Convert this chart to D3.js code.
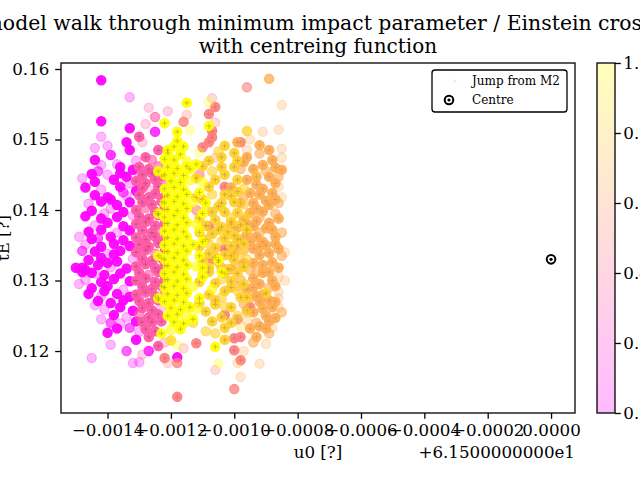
<!DOCTYPE html>
<html>
<head>
<meta charset="utf-8">
<script src="https://cdn.jsdelivr.net/npm/d3@7"></script>
<style>
body { margin: 0; background: #fff; }
text { font-family: "DejaVu Serif", serif; fill: #000; }
</style>
</head>
<body>
<script>
// u0 is stored as offset from 61.5 (the axis offset text), uE as is
// each point: [u0 - 61.5, uE, alpha]
const magentaPts = [
  [-0.00142,0.1584,.85],[-0.00133,0.1560,.25],[-0.00142,0.1526,.85],[-0.00133,0.1516,.85],
  [-0.00142,0.1504,.25],[-0.00144,0.1488,.25],[-0.00140,0.1491,.25],[-0.00134,0.1496,.85],
  [-0.00133,0.1485,.85],[-0.00139,0.1478,.7],[-0.00144,0.1471,.85],[-0.00142,0.1464,.25],
  [-0.00137,0.1465,.25],[-0.00125,0.1511,.7],[-0.00145,0.1451,.85],[-0.00132,0.1457,.85],
  [-0.00130,0.1452,.25],[-0.00136,0.1461,.85],[-0.00140,0.1450,.25],[-0.00134,0.1447,.85],
  [-0.00144,0.1440,.85],[-0.00138,0.1443,.85],[-0.00133,0.1438,.25],[-0.00147,0.1432,.85],
  [-0.00142,0.1429,.25],[-0.00136,0.1433,.85],[-0.00131,0.1427,.85],[-0.00144,0.1421,.85],
  [-0.00140,0.1418,.85],[-0.00134,0.1420,.25],[-0.00146,0.1409,.25],[-0.00142,0.1412,.85],
  [-0.00137,0.1407,.85],[-0.00133,0.1411,.85],[-0.00145,0.1399,.85],[-0.00139,0.1402,.25],
  [-0.00135,0.1397,.85],[-0.00147,0.1391,.85],[-0.00142,0.1388,.85],[-0.00137,0.1390,.85],
  [-0.00132,0.1392,.25],[-0.00144,0.1378,.25],[-0.00140,0.1382,.85],[-0.00135,0.1377,.85],
  [-0.00146,0.1369,.85],[-0.00142,0.1372,.85],[-0.00137,0.1368,.25],[-0.00133,0.1371,.85],
  [-0.00145,0.1359,.85],[-0.00139,0.1362,.85],[-0.00135,0.1357,.85],[-0.00147,0.1351,.25],
  [-0.00142,0.1348,.85],[-0.00138,0.1352,.85],[-0.00133,0.1349,.85],[-0.00144,0.1341,.85],
  [-0.00140,0.1338,.25],[-0.00136,0.1342,.85],[-0.00146,0.1329,.85],[-0.00142,0.1332,.85],
  [-0.00137,0.1327,.85],[-0.00132,0.1331,.25],[-0.00148,0.1318,.85],[-0.00143,0.1322,.85],
  [-0.00139,0.1319,.25],[-0.00134,0.1317,.85],[-0.00145,0.1311,.85],[-0.00141,0.1308,.85],
  [-0.00136,0.1310,.85],[-0.00147,0.1301,.25],[-0.00142,0.1298,.85],[-0.00138,0.1302,.85],
  [-0.00133,0.1299,.85],[-0.00145,0.1289,.85],[-0.00140,0.1292,.85],[-0.00135,0.1287,.25],
  [-0.00146,0.1281,.85],[-0.00142,0.1278,.25],[-0.00137,0.1281,.85],[-0.00133,0.1277,.85],
  [-0.00143,0.1271,.85],[-0.00139,0.1268,.85],[-0.00135,0.1272,.85],[-0.00141,0.1259,.25],
  [-0.00136,0.1262,.85],[-0.00132,0.1257,.85],[-0.00138,0.1251,.85],[-0.00134,0.1248,.25],
  [-0.00136,0.1239,.25],[-0.00131,0.1242,.85],[-0.00140,0.1226,.85],[-0.00145,0.1190,.25],
  [-0.00132,0.1183,.25],[-0.00130,0.1184,.25],[-0.00131,0.1216,.85],[-0.00127,0.1200,.7],
  [-0.00118,0.1191,.85],[-0.00147,0.1315,.85],[-0.00130,0.1227,.25],
  [-0.00149,0.1362,.25],[-0.00148,0.1342,.55],[-0.00149,0.1295,.25],[-0.00148,0.1445,.25],
  [-0.00143,0.1360,.55],[-0.00140,0.1325,.85],[-0.00138,0.1337,.85],[-0.00144,0.1310,.25],
  [-0.00139,0.1415,.85],[-0.00135,0.1425,.55],[-0.00141,0.1395,.25],[-0.00143,0.1455,.55],
  [-0.00136,0.1452,.85],[-0.00131,0.1470,.25],[-0.00141,0.1285,.85],[-0.00144,0.1265,.25],
  [-0.00139,0.1240,.55],[-0.00137,0.1232,.85],[-0.00142,0.1245,.25],[-0.00133,0.1233,.55],
  [-0.00150,0.1318,.85],[-0.00148,0.1312,.85],[-0.00139,0.1209,.25],[-0.00134,0.1200,.55]
];
const pinkPts = [
  [-0.00130,0.1504,.85],[-0.00129,0.1496,.25],[-0.00128,0.1522,.25],[-0.00125,0.1532,.55],
  [-0.00124,0.1485,.85],[-0.00128,0.1475,.85],[-0.00126,0.1471,.55],
  [-0.00130,0.1461,.85],[-0.00127,0.1458,.85],[-0.00124,0.1462,.55],
  [-0.00129,0.1450,.85],[-0.00126,0.1452,.85],[-0.00123,0.1448,.85],
  [-0.00131,0.1441,.85],[-0.00128,0.1438,.85],[-0.00125,0.1443,.85],[-0.00122,0.1440,.55],
  [-0.00129,0.1431,.85],[-0.00126,0.1428,.25],[-0.00124,0.1433,.85],
  [-0.00130,0.1421,.85],[-0.00127,0.1418,.85],[-0.00125,0.1423,.85],[-0.00122,0.1419,.85],
  [-0.00129,0.1411,.85],[-0.00126,0.1408,.85],[-0.00123,0.1412,.85],
  [-0.00131,0.1400,.85],[-0.00128,0.1403,.55],[-0.00125,0.1398,.85],[-0.00122,0.1401,.85],
  [-0.00130,0.1391,.85],[-0.00127,0.1388,.85],[-0.00124,0.1393,.85],
  [-0.00131,0.1380,.85],[-0.00128,0.1383,.85],[-0.00125,0.1378,.85],[-0.00122,0.1381,.85],
  [-0.00129,0.1371,.85],[-0.00126,0.1368,.85],[-0.00123,0.1372,.55],
  [-0.00131,0.1361,.85],[-0.00128,0.1358,.85],[-0.00125,0.1362,.85],[-0.00122,0.1359,.85],
  [-0.00130,0.1351,.85],[-0.00127,0.1348,.85],[-0.00124,0.1353,.85],
  [-0.00131,0.1340,.85],[-0.00128,0.1343,.85],[-0.00125,0.1338,.55],[-0.00122,0.1341,.85],
  [-0.00129,0.1331,.85],[-0.00126,0.1328,.85],[-0.00123,0.1332,.85],
  [-0.00131,0.1320,.85],[-0.00128,0.1323,.85],[-0.00125,0.1318,.85],[-0.00122,0.1321,.85],
  [-0.00130,0.1311,.85],[-0.00127,0.1308,.55],[-0.00124,0.1312,.85],
  [-0.00131,0.1300,.85],[-0.00128,0.1303,.85],[-0.00125,0.1298,.85],[-0.00122,0.1301,.85],
  [-0.00129,0.1291,.85],[-0.00126,0.1288,.85],[-0.00123,0.1292,.85],
  [-0.00131,0.1280,.85],[-0.00128,0.1283,.85],[-0.00125,0.1278,.85],[-0.00122,0.1281,.55],
  [-0.00130,0.1271,.85],[-0.00127,0.1268,.85],[-0.00124,0.1272,.85],
  [-0.00129,0.1261,.85],[-0.00126,0.1258,.85],[-0.00123,0.1262,.25],
  [-0.00130,0.1251,.55],[-0.00127,0.1248,.85],[-0.00124,0.1252,.85],
  [-0.00129,0.1241,.85],[-0.00126,0.1238,.25],[-0.00123,0.1242,.85],
  [-0.00128,0.1231,.85],[-0.00125,0.1228,.85],
  [-0.00127,0.1220,.85],[-0.00124,0.1207,.85],[-0.00126,0.1241,.85],
  [-0.00127,0.1545,.25],[-0.00121,0.1540,.25],[-0.00129,0.1195,.25],[-0.00122,0.1212,.25]
];
const salmonPts = [
  [-0.00096,0.1574,.55],[-0.00107,0.1559,.25],[-0.00106,0.1546,.85],[-0.00108,0.1536,.85],
  [-0.00106,0.1524,.25],[-0.00107,0.1512,.85],[-0.00107,0.1503,.85],[-0.00108,0.1496,.85],
  [-0.00110,0.1489,.85],[-0.00106,0.1474,.25],[-0.00115,0.1535,.25],[-0.00116,0.1525,.7],
  [-0.00098,0.1496,.85],[-0.00103,0.1433,.85],[-0.00108,0.1377,.85],[-0.00103,0.1345,.85],
  [-0.00107,0.1330,.85],[-0.00104,0.1318,.55],[-0.00122,0.1190,.85],[-0.00121,0.1183,.25],
  [-0.00118,0.1183,.7],[-0.00118,0.1135,.85],[-0.00112,0.1211,.85],[-0.00116,0.1204,.25],
  [-0.00106,0.1173,.25],[-0.00098,0.1187,.85],[-0.00100,0.1201,.85],[-0.00098,0.1220,.85],
  [-0.00100,0.1218,.85],[-0.00099,0.1245,.85],[-0.00095,0.1262,.85],[-0.00103,0.1251,.85],
  [-0.00100,0.1146,.7],[-0.00111,0.1450,.55],[-0.00112,0.1400,.55],[-0.00120,0.1215,.55]
];
const orangePts = [
  [-0.00089,0.1586,.7],[-0.00085,0.1549,.25],[-0.00091,0.1511,.25],[-0.00086,0.1514,.25],
  [-0.00099,0.1496,.85],[-0.00092,0.1492,.85],[-0.00089,0.1485,.85],[-0.00085,0.1487,.25],
  [-0.00096,0.1485,.25],[-0.00097,0.1468,.85],[-0.00091,0.1464,.85],[-0.00088,0.1471,.85],
  [-0.00087,0.1460,.85],[-0.00085,0.1474,.25],[-0.00096,0.1475,.85],[-0.00093,0.1447,.85],
  [-0.00089,0.1447,.85],[-0.00086,0.1447,.55],[-0.00096,0.1443,.85],[-0.00086,0.1433,.25],
  [-0.00085,0.1418,.25],[-0.00092,0.1422,.85],[-0.00095,0.1424,.85],[-0.00094,0.1410,.85],
  [-0.00089,0.1407,.85],[-0.00086,0.1410,.55],[-0.00088,0.1424,.85],[-0.00085,0.1457,.85],
  [-0.00095,0.1396,.85],[-0.00091,0.1398,.85],[-0.00087,0.1395,.55],
  [-0.00097,0.1386,.85],[-0.00093,0.1384,.85],[-0.00086,0.1388,.85],
  [-0.00099,0.1375,.85],[-0.00094,0.1377,.85],[-0.00090,0.1374,.85],
  [-0.00088,0.1372,.85],[-0.00085,0.1368,.55],
  [-0.00098,0.1358,.85],[-0.00095,0.1355,.85],[-0.00091,0.1355,.85],
  [-0.00089,0.1339,.85],[-0.00086,0.1345,.85],[-0.00100,0.1339,.85],[-0.00092,0.1336,.85],
  [-0.00094,0.1325,.85],[-0.00088,0.1326,.85],[-0.00097,0.1325,.85],
  [-0.00095,0.1315,.55],[-0.00086,0.1318,.85],[-0.00086,0.1305,.25],
  [-0.00092,0.1295,.85],[-0.00089,0.1290,.55],[-0.00092,0.1270,.85],
  [-0.00088,0.1262,.85],[-0.00086,0.1262,.25],[-0.00087,0.1247,.85],
  [-0.00088,0.1233,.25],[-0.00092,0.1235,.85],[-0.00090,0.1232,.85],[-0.00093,0.1220,.85],
  [-0.00092,0.1182,.25],[-0.00098,0.1163,.25],[-0.00099,0.1183,.25],
  [-0.00086,0.1275,.25],[-0.00086,0.1284,.25],
  [-0.00101,0.1432,.85],[-0.00093,0.1436,.85],[-0.00090,0.1413,.85],[-0.00097,0.1419,.55],
  [-0.00101,0.1380,.85],[-0.00096,0.1366,.85],[-0.00092,0.1368,.55],[-0.00099,0.1349,.85],
  [-0.00094,0.1345,.85],[-0.00090,0.1350,.85],[-0.00101,0.1316,.85],[-0.00091,0.1311,.85],
  [-0.00094,0.1303,.85],[-0.00098,0.1301,.55],[-0.00088,0.1300,.85],[-0.00096,0.1288,.85],
  [-0.00093,0.1278,.85],[-0.00089,0.1272,.85],[-0.00097,0.1267,.55],[-0.00094,0.1255,.85],
  [-0.00090,0.1250,.85],[-0.00096,0.1243,.25],[-0.00093,0.1240,.55],
  [-0.00098,0.1410,.85],[-0.00093,0.1402,.85],[-0.00087,0.1415,.85],[-0.00091,0.1430,.85],
  [-0.00087,0.1438,.85],[-0.00094,0.1458,.85],[-0.00090,0.1455,.55],[-0.00098,0.1458,.55],
  [-0.00089,0.1382,.85],[-0.00092,0.1390,.55],[-0.00096,0.1380,.85],[-0.00087,0.1362,.85],
  [-0.00093,0.1362,.85],[-0.00097,0.1343,.55],[-0.00092,0.1348,.85],[-0.00087,0.1352,.85],
  [-0.00085,0.1335,.55],[-0.00091,0.1322,.85],[-0.00089,0.1312,.85],[-0.00099,0.1318,.55],
  [-0.00093,0.1312,.55],[-0.00087,0.1292,.85],[-0.00094,0.1290,.85],[-0.00099,0.1292,.55],
  [-0.00091,0.1280,.85],[-0.00095,0.1275,.55],[-0.00087,0.1270,.85],[-0.00091,0.1260,.85],
  [-0.00096,0.1258,.85],[-0.00089,0.1242,.85],[-0.00085,0.1255,.55],[-0.00095,0.1232,.85],
  [-0.00089,0.1225,.55],[-0.00094,0.1212,.55],[-0.00092,0.1480,.55],[-0.00095,0.1500,.25],
  [-0.00084,0.1340,.25],[-0.00084,0.1300,.25],[-0.00090,0.1210,.25],[-0.00097,0.1200,.25]
];
const goldPts = [
  [-0.00096,0.1512,.7],[-0.00103,0.1491,.85],[-0.00100,0.1481,.85],[-0.00104,0.1475,.85],
  [-0.00104,0.1461,.85],[-0.00100,0.1461,.85],[-0.00099,0.1443,.85],[-0.00106,0.1443,.85],
  [-0.00108,0.1433,.85],[-0.00099,0.1426,.85],[-0.00103,0.1422,.85],[-0.00107,0.1422,.55],
  [-0.00104,0.1410,.85],[-0.00100,0.1411,.85],[-0.00097,0.1408,.55],[-0.00107,0.1397,.85],
  [-0.00103,0.1397,.85],[-0.00099,0.1396,.85],
  [-0.00111,0.1388,.85],[-0.00106,0.1386,.85],[-0.00101,0.1389,.55],
  [-0.00109,0.1378,.85],[-0.00104,0.1376,.85],[-0.00098,0.1379,.85],
  [-0.00111,0.1368,.85],[-0.00107,0.1366,.85],[-0.00102,0.1369,.85],
  [-0.00109,0.1358,.85],[-0.00104,0.1356,.55],[-0.00099,0.1359,.85],
  [-0.00111,0.1348,.85],[-0.00106,0.1346,.85],[-0.00101,0.1349,.85],
  [-0.00108,0.1338,.85],[-0.00103,0.1336,.85],[-0.00098,0.1339,.55],
  [-0.00110,0.1328,.85],[-0.00105,0.1326,.85],[-0.00100,0.1329,.85],
  [-0.00108,0.1318,.85],[-0.00102,0.1316,.85],[-0.00097,0.1319,.85],
  [-0.00110,0.1308,.55],[-0.00103,0.1310,.85],
  [-0.00111,0.1298,.85],[-0.00106,0.1296,.85],[-0.00101,0.1299,.85],
  [-0.00101,0.1290,.85],[-0.00098,0.1276,.85],[-0.00108,0.1280,.85],[-0.00104,0.1276,.55],
  [-0.00101,0.1262,.85],[-0.00109,0.1256,.85],[-0.00104,0.1248,.85],[-0.00099,0.1250,.55],
  [-0.00103,0.1233,.85],[-0.00103,0.1216,.85],[-0.00098,0.1236,.25],
  [-0.00090,0.1282,.85],[-0.00093,0.1450,.25],[-0.00110,0.1462,.85],[-0.00112,0.1445,.85],
  [-0.00111,0.1268,.85],[-0.00106,0.1266,.85],[-0.00113,0.1240,.55],[-0.00109,0.1228,.55],
  [-0.00112,0.1418,.85],[-0.00109,0.1400,.55],[-0.00105,0.1405,.85],[-0.00101,0.1420,.85],
  [-0.00097,0.1430,.55],[-0.00103,0.1450,.85],[-0.00107,0.1455,.55],[-0.00099,0.1470,.85],
  [-0.00101,0.1383,.85],[-0.00096,0.1392,.55],[-0.00105,0.1372,.85],[-0.00100,0.1364,.85],
  [-0.00096,0.1372,.85],[-0.00108,0.1352,.55],[-0.00103,0.1360,.85],[-0.00097,0.1352,.85],
  [-0.00106,0.1333,.85],[-0.00101,0.1335,.85],[-0.00096,0.1330,.55],[-0.00108,0.1312,.85],
  [-0.00099,0.1310,.85],[-0.00104,0.1302,.55],[-0.00097,0.1295,.85],[-0.00103,0.1285,.85],
  [-0.00099,0.1285,.55],[-0.00106,0.1272,.85],[-0.00096,0.1276,.85],[-0.00103,0.1263,.55],
  [-0.00107,0.1242,.85],[-0.00101,0.1240,.85],[-0.00106,0.1225,.55],[-0.00096,0.1255,.55],
  [-0.00110,0.1415,.85],[-0.00108,0.1470,.85],[-0.00105,0.1483,.55]
];
const yellowPts = [
  [-0.00122,0.1523,.85],[-0.00118,0.1511,.85],[-0.00115,0.1552,.85],[-0.00114,0.1513,.25],
  [-0.00108,0.1519,.85],[-0.00108,0.1553,.25],[-0.00111,0.1482,.25],[-0.00121,0.1485,.85],
  [-0.00122,0.1472,.85],[-0.00114,0.1458,.85],[-0.00118,0.1498,.85],[-0.00116,0.1490,.85],
  [-0.00119,0.1490,.85],[-0.00121,0.1481,.85],[-0.00117,0.1479,.85],
  [-0.00119,0.1471,.85],[-0.00115,0.1469,.55],
  [-0.00121,0.1461,.85],[-0.00118,0.1459,.85],[-0.00115,0.1462,.85],
  [-0.00122,0.1450,.85],[-0.00119,0.1452,.85],[-0.00116,0.1449,.85],
  [-0.00120,0.1441,.85],[-0.00117,0.1439,.85],[-0.00114,0.1442,.55],
  [-0.00122,0.1430,.85],[-0.00119,0.1432,.85],[-0.00116,0.1429,.85],
  [-0.00121,0.1421,.85],[-0.00118,0.1419,.85],[-0.00115,0.1422,.85],
  [-0.00122,0.1410,.85],[-0.00119,0.1412,.85],[-0.00116,0.1409,.85],[-0.00113,0.1411,.55],
  [-0.00121,0.1401,.85],[-0.00118,0.1399,.85],[-0.00115,0.1402,.85],
  [-0.00122,0.1390,.85],[-0.00119,0.1392,.85],[-0.00116,0.1389,.85],
  [-0.00121,0.1381,.85],[-0.00118,0.1379,.85],[-0.00115,0.1382,.85],[-0.00112,0.1380,.55],
  [-0.00122,0.1370,.85],[-0.00119,0.1372,.85],[-0.00116,0.1369,.85],
  [-0.00121,0.1361,.85],[-0.00118,0.1359,.85],[-0.00115,0.1362,.85],
  [-0.00122,0.1350,.85],[-0.00119,0.1352,.85],[-0.00116,0.1349,.85],[-0.00113,0.1351,.85],
  [-0.00121,0.1341,.85],[-0.00118,0.1339,.85],[-0.00115,0.1342,.85],
  [-0.00122,0.1330,.85],[-0.00119,0.1332,.85],[-0.00116,0.1329,.85],
  [-0.00121,0.1321,.85],[-0.00118,0.1319,.85],[-0.00115,0.1322,.85],[-0.00112,0.1320,.55],
  [-0.00122,0.1310,.85],[-0.00119,0.1312,.85],[-0.00116,0.1309,.85],
  [-0.00121,0.1301,.85],[-0.00118,0.1299,.85],[-0.00115,0.1302,.85],
  [-0.00122,0.1290,.85],[-0.00119,0.1292,.85],[-0.00116,0.1289,.85],[-0.00113,0.1291,.55],
  [-0.00121,0.1281,.85],[-0.00118,0.1279,.85],[-0.00115,0.1282,.85],
  [-0.00122,0.1270,.85],[-0.00119,0.1272,.85],[-0.00116,0.1269,.85],
  [-0.00120,0.1261,.85],[-0.00117,0.1259,.85],[-0.00114,0.1262,.85],
  [-0.00121,0.1250,.85],[-0.00118,0.1252,.85],[-0.00115,0.1249,.55],
  [-0.00119,0.1241,.85],[-0.00116,0.1239,.85],[-0.00120,0.1230,.55],[-0.00117,0.1231,.85],
  [-0.00118,0.1208,.25],[-0.00106,0.1206,.85],[-0.00105,0.1182,.25],
  [-0.00109,0.1410,.85],[-0.00105,0.1329,.85],[-0.00104,0.1312,.85],[-0.00110,0.1305,.85],
  [-0.00107,0.1288,.55],[-0.00110,0.1355,.85],[-0.00111,0.1335,.85],
  [-0.00124,0.1455,.85],[-0.00124,0.1395,.85],[-0.00124,0.1335,.85],[-0.00124,0.1275,.85],
  [-0.00111,0.1425,.85],[-0.00110,0.1395,.85],[-0.00111,0.1372,.55],[-0.00110,0.1318,.85],
  [-0.00111,0.1275,.85],[-0.00112,0.1260,.55],[-0.00113,0.1245,.85],[-0.00123,0.1225,.85],
  [-0.00120,0.1215,.55],[-0.00112,0.1465,.85],[-0.00110,0.1440,.55]
];
// colour value of each group (spring colormap, 0..1), drawn in this order
const groupC = [0, 0.35, 0.5, 0.68, 0.82, 1];
const groups = [magentaPts, pinkPts, salmonPts, orangePts, goldPts, yellowPts];
// opacity of the small "Jump from M2" crosses on each group's heavy points
const jumpOpacity = [0.04, 0.22, 0.15, 0.12, 0.2, 0.25];

const centreU0 = 0.0, centreUE = 0.1330;
const xTicks = [-0.0014, -0.0012, -0.0010, -0.0008, -0.0006, -0.0004, -0.0002, 0.0];
const yTicks = [0.12, 0.13, 0.14, 0.15, 0.16];
const cbTicks = [0, 0.2, 0.4, 0.6, 0.8, 1.0];

const W = 640, H = 480;
const mL = 61, mR = 575, mT = 63, mB = 413;
const tickFont = 16.7, tickLen = 5.8, tickPad = 5.8, lw = 1.3;

const svg = d3.select("body").append("svg")
    .attr("width", W).attr("height", H);

const x = d3.scaleLinear().domain([-0.001547, 0.0000756]).range([mL, mR]);
const y = d3.scaleLinear().domain([0.11121, 0.16085]).range([mB, mT]);
const spring = c => d3.rgb(255, Math.round(255 * c), Math.round(255 * (1 - c)));
// stacked repeats look a bit denser than a single alpha layer
const op = a => Math.min(0.95, a * 1.1);

svg.append("clipPath").attr("id", "plot")
  .append("rect").attr("x", mL).attr("y", mT)
  .attr("width", mR - mL).attr("height", mB - mT);

const plot = svg.append("g").attr("clip-path", "url(#plot)");

// scatter, one layer per colour
groups.forEach((pts, i) => {
    let col = spring(groupC[i]);
    plot.append("g").selectAll("circle")
        .data(pts)
        .enter()
        .append("circle")
        .attr("cx", d => x(d[0]))
        .attr("cy", d => y(d[1]))
        .attr("r", 4.6)
        .attr("fill", col)
        .attr("stroke", col)
        .attr("stroke-width", 1.3)
        .attr("fill-opacity", d => op(d[2]))
        .attr("stroke-opacity", d => op(d[2]));
});

// jump markers
groups.forEach((pts, i) => {
    plot.append("g").selectAll("path")
        .data(pts.filter(d => d[2] > 0.8))
        .enter()
        .append("path")
        .attr("transform", d => `translate(${x(d[0])},${y(d[1])})`)
        .attr("d", "M-2.5,0H2.5M0,-2.5V2.5")
        .attr("stroke", "#000")
        .attr("stroke-width", 0.8)
        .attr("opacity", jumpOpacity[i]);
});

// centre
plot.append("circle").attr("cx", x(centreU0)).attr("cy", y(centreUE))
    .attr("r", 4.3).attr("fill", "#fff").attr("stroke", "#000").attr("stroke-width", 2);
plot.append("circle").attr("cx", x(centreU0)).attr("cy", y(centreUE))
    .attr("r", 1.6).attr("fill", "#000");

// axes
const xAxis = svg.append("g").attr("transform", `translate(0,${mB})`)
    .call(d3.axisBottom(x).tickValues(xTicks).tickFormat(d3.format(".4f")).tickSize(tickLen).tickPadding(tickPad));
const yAxis = svg.append("g").attr("transform", `translate(${mL},0)`)
    .call(d3.axisLeft(y).tickValues(yTicks).tickFormat(d3.format(".2f")).tickSize(tickLen).tickPadding(tickPad));
[xAxis, yAxis].forEach(a => {
    a.select(".domain").remove();
    a.selectAll("text").attr("font-family", "DejaVu Serif").attr("font-size", tickFont).attr("fill", "#000");
    a.selectAll("line").attr("stroke", "#000").attr("stroke-width", lw);
});

svg.append("rect").attr("x", mL).attr("y", mT)
    .attr("width", mR - mL).attr("height", mB - mT)
    .attr("fill", "none").attr("stroke", "#000").attr("stroke-width", lw);

// labels
svg.append("text").attr("x", (mL + mR) / 2).attr("y", 30)
    .attr("text-anchor", "middle").attr("font-size", 20.4)
    .text("model walk through minimum impact parameter / Einstein cross");
svg.append("text").attr("x", (mL + mR) / 2).attr("y", 53)
    .attr("text-anchor", "middle").attr("font-size", 20)
    .text("with centreing function");
svg.append("text").attr("x", (mL + mR) / 2).attr("y", 458)
    .attr("text-anchor", "middle").attr("font-size", tickFont)
    .text("u0 [?]");
svg.append("text").attr("x", mR).attr("y", 458)
    .attr("text-anchor", "end").attr("font-size", tickFont)
    .text("+6.1500000000e1");
svg.append("text").attr("transform", `translate(9,${(mT + mB) / 2}) rotate(-90)`)
    .attr("text-anchor", "middle").attr("font-size", tickFont)
    .text("tE [?]");

// legend
const lg = svg.append("g");
lg.append("rect").attr("x", 432).attr("y", 70).attr("width", 135).attr("height", 42)
    .attr("rx", 3).attr("fill", "#fff").attr("stroke", "#000").attr("stroke-width", lw);
lg.append("path").attr("transform", "translate(455,81)")
    .attr("d", "M-1.5,0H1.5M0,-1.5V1.5").attr("stroke", "#000").attr("opacity", 0.1);
lg.append("circle").attr("cx", 449).attr("cy", 100).attr("r", 4.3)
    .attr("fill", "#fff").attr("stroke", "#000").attr("stroke-width", 2);
lg.append("circle").attr("cx", 449).attr("cy", 100).attr("r", 1.6).attr("fill", "#000");
lg.append("text").attr("x", 472).attr("y", 85).attr("font-size", 12).text("Jump from M2");
lg.append("text").attr("x", 472).attr("y", 104).attr("font-size", 12).text("Centre");

// colorbar
const cbX = 597, cbW = 18;
const cb = d3.scaleLinear().domain([0, 1]).range([mB, mT]);
const grad = svg.append("defs").append("linearGradient").attr("id", "cbgrad")
    .attr("x1", 0).attr("y1", 1).attr("x2", 0).attr("y2", 0);
cbTicks.forEach(t => {
    grad.append("stop").attr("offset", t)
        .attr("stop-color", spring(t)).attr("stop-opacity", 0.27);
});
svg.append("rect").attr("x", cbX).attr("y", mT).attr("width", cbW).attr("height", mB - mT)
    .attr("fill", "url(#cbgrad)").attr("stroke", "#000").attr("stroke-width", lw);
const cbAxis = svg.append("g").attr("transform", `translate(${cbX + cbW},0)`)
    .call(d3.axisRight(cb).tickValues(cbTicks).tickFormat(d3.format(".1f")).tickSize(tickLen).tickPadding(2.5));
cbAxis.select(".domain").remove();
cbAxis.selectAll("text").attr("font-family", "DejaVu Serif").attr("font-size", tickFont).attr("fill", "#000");
cbAxis.selectAll("line").attr("stroke", "#000").attr("stroke-width", lw);
</script>
</body>
</html>
